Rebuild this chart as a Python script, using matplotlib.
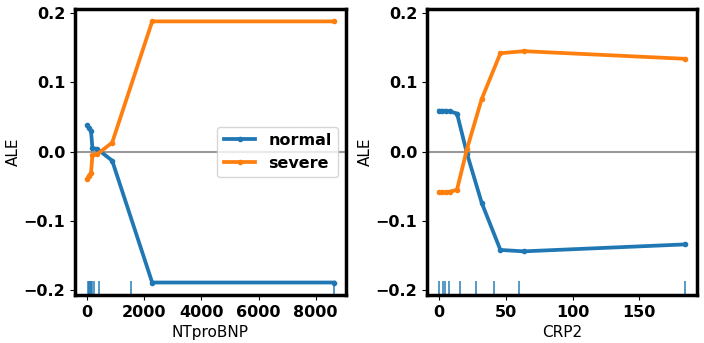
import numpy as np
import matplotlib
matplotlib.use("Agg")
import matplotlib.pyplot as plt
import matplotlib.transforms as transforms

# ALE values
targets = ["normal", "severe"]

bnp_values = [10, 60, 140, 190, 350, 880, 2280, 8630]
bnp_normal = [0.038, 0.034, 0.030, 0.005, 0.004, -0.013, -0.189, -0.189]
bnp_severe = [-0.039, -0.035, -0.031, -0.005, -0.004, 0.013, 0.188, 0.188]
bnp_deciles = [20, 60, 100, 140, 180, 245, 420, 1545, 8630]

crp_values = [0.2, 2, 5, 8, 13.5, 21, 32, 46, 63.5, 184]
crp_normal = [0.059, 0.059, 0.059, 0.058, 0.055, -0.003, -0.074, -0.142, -0.144, -0.134]
crp_severe = [-0.059, -0.059, -0.059, -0.058, -0.055, 0.004, 0.076, 0.142, 0.145, 0.134]
crp_deciles = [0.2, 3.2, 4.5, 7.8, 15.8, 28, 41, 60, 184]

plt.rcParams['font.size'] = 10.5

fig = plt.figure(figsize=(7.04, 3.43), dpi=100)
ax1 = fig.add_axes([0.1065, 0.140, 0.385, 0.834])
ax2 = fig.add_axes([0.6065, 0.140, 0.3835, 0.834])


def plot_ale(ax, xs, normal, severe, deciles, name, ticks, legend=False):
    ax.axhline(0, color='#999999', lw=1.5, zorder=1)
    ax.plot(xs, normal, marker='o', markersize=3, lw=2.7, color='C0', label=targets[0])
    ax.plot(xs, severe, marker='o', markersize=3, lw=2.7, color='C1', label=targets[1])
    # marcas de deciles abajo
    trans = transforms.blended_transform_factory(ax.transData, ax.transAxes)
    ax.vlines(deciles, 0, 0.05, transform=trans, color='C0', lw=1.4, alpha=0.75)
    ax.set_xlabel(name, fontsize=11)
    ax.set_ylabel('ALE', fontsize=11, labelpad=2)
    ax.set_ylim(-0.207, 0.206)
    ax.set_yticks([-0.2, -0.1, 0.0, 0.1, 0.2])
    ax.set_xticks(ticks)
    for s in ax.spines.values():
        s.set_linewidth(2.5)
    for lab in ax.get_xticklabels() + ax.get_yticklabels():
        lab.set_fontweight('bold')
        lab.set_fontsize(11.5)
    if legend:
        ax.legend(loc='center right', prop={'weight': 'bold', 'size': 11.5})


plot_ale(ax1, bnp_values, bnp_normal, bnp_severe, bnp_deciles, 'NTproBNP',
         [0, 2000, 4000, 6000, 8000], legend=True)
plot_ale(ax2, crp_values, crp_normal, crp_severe, crp_deciles, 'CRP2', [0, 50, 100, 150])

fig.savefig('out.png', dpi=100)
